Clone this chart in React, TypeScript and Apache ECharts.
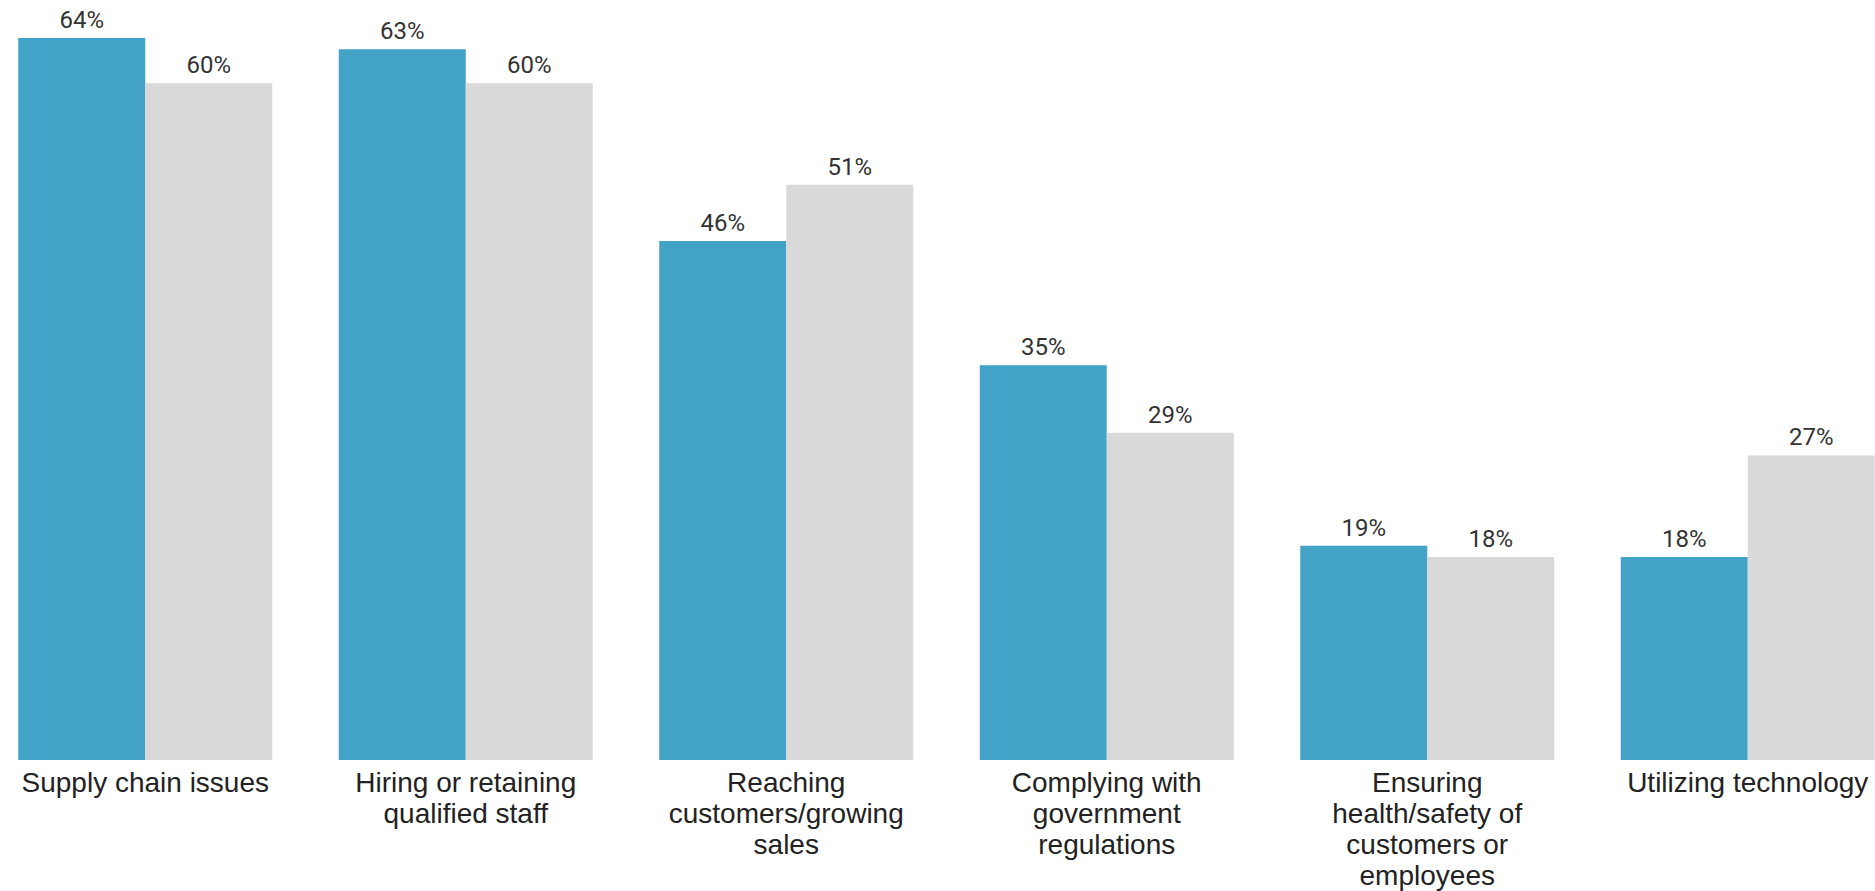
import React, { useEffect, useRef } from "react";
import * as echarts from "echarts";

const categories = [
  "Supply chain issues",
  "Hiring or retaining\nqualified staff",
  "Reaching\ncustomers/growing\nsales",
  "Complying with\ngovernment\nregulations",
  "Ensuring\nhealth/safety of\ncustomers or\nemployees",
  "Utilizing technology",
];
const currentValues = [64, 63, 46, 35, 19, 18];
const previousValues = [60, 60, 51, 29, 18, 27];

export default function App() {
  const ref = useRef<HTMLDivElement>(null);
  useEffect(() => {
    if (!ref.current) return;
    const chart = echarts.init(ref.current, undefined, { renderer: "svg" });
    const valueLabel = {
      show: true,
      position: "top",
      distance: 6,
      formatter: "{c}%",
      fontFamily: "Roboto",
      fontSize: 24,
      color: "#333333",
    };
    chart.setOption({
      animation: false,
      backgroundColor: "#ffffff",
      grid: { left: 0, right: 0, top: 38, bottom: 129, containLabel: false },
      xAxis: {
        type: "category",
        data: categories,
        axisLine: { show: false },
        axisTick: { show: false },
        splitLine: { show: false },
        axisLabel: {
          interval: 0,
          margin: 7,
          fontFamily: "Liberation Sans, Arial, sans-serif",
          fontSize: 28,
          lineHeight: 31,
          color: "#222222",
          align: "center",
        },
      },
      yAxis: {
        type: "value",
        min: 0,
        max: 64,
        show: false,
        splitLine: { show: false },
      },
      series: [
        {
          name: "Current",
          type: "bar",
          data: currentValues,
          barWidth: 127,
          barGap: "0%",
          itemStyle: { color: "#42A3C7" },
          label: valueLabel,
        },
        {
          name: "Previous",
          type: "bar",
          data: previousValues,
          barWidth: 127,
          barGap: "0%",
          itemStyle: { color: "#D9D9D9" },
          label: valueLabel,
        },
      ],
    });
    return () => chart.dispose();
  }, []);
  return (
    <div
      style={{
        position: "absolute",
        left: 0,
        top: 0,
        width: 1875,
        height: 891,
        overflow: "hidden",
        background: "#ffffff",
      }}
    >
      <div
        ref={ref}
        style={{ position: "absolute", left: -15.5, top: 0, width: 1923, height: 891 }}
      />
    </div>
  );
}
